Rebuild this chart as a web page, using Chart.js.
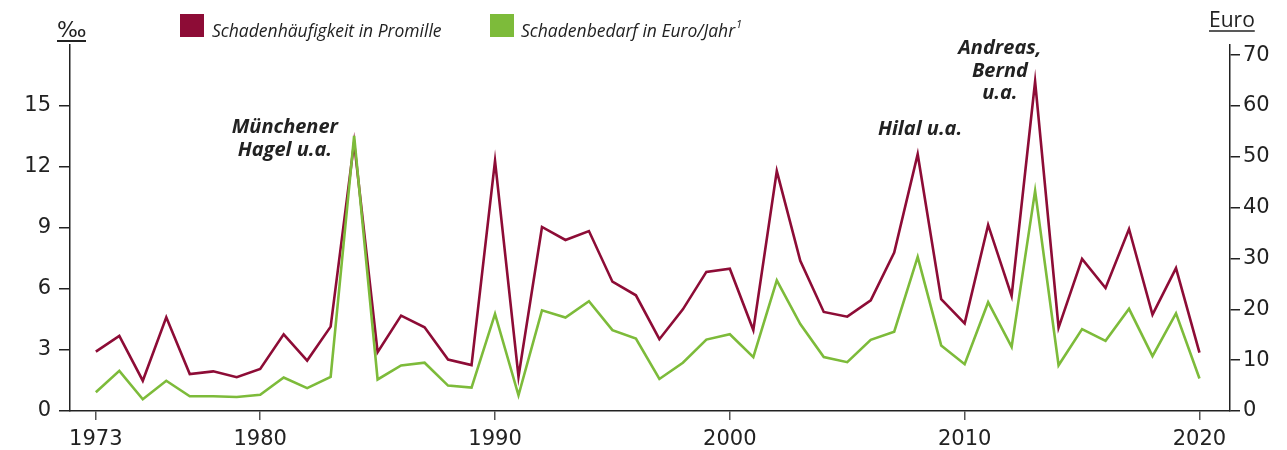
<!DOCTYPE html>
<html>
<head>
  <meta charset="UTF-8">
  <title>Schadenhäufigkeit und Schadenbedarf</title>
  <script src="https://cdn.jsdelivr.net/npm/chart.js"></script>
  <style>
    html, body { margin: 0; padding: 0; background: #fff; }
    #wrap { width: 1287px; height: 450px; }
  </style>
</head>
<body>
  <div id="wrap"><canvas id="chart" width="1287" height="450"></canvas></div>
  <script>
    const years = [1973, 1974, 1975, 1976, 1977, 1978, 1979, 1980, 1981, 1982, 1983, 1984,
      1985, 1986, 1987, 1988, 1989, 1990, 1991, 1992, 1993, 1994, 1995, 1996,
      1997, 1998, 1999, 2000, 2001, 2002, 2003, 2004, 2005, 2006, 2007, 2008,
      2009, 2010, 2011, 2012, 2013, 2014, 2015, 2016, 2017, 2018, 2019, 2020];

    // Schadenhäufigkeit in Promille (linke Achse)
    const haeufigkeit = [2.92, 3.69, 1.49, 4.61, 1.82, 1.95, 1.66, 2.07, 3.77, 2.48, 4.15, 13.2,
      2.89, 4.69, 4.12, 2.53, 2.26, 12.3, 1.69, 9.05, 8.41, 8.85, 6.36, 5.69,
      3.53, 5.0, 6.84, 7.0, 3.98, 11.8, 7.39, 4.87, 4.64, 5.44, 7.79, 12.63,
      5.5, 4.31, 9.15, 5.66, 16.2, 4.1, 7.48, 6.05, 8.95, 4.74, 7.03, 2.87];

    // Schadenbedarf in Euro/Jahr (rechte Achse)
    const bedarf = [3.7, 7.9, 2.3, 5.95, 2.9, 2.9, 2.75, 3.2, 6.6, 4.5, 6.7, 54.1,
      6.2, 8.95, 9.5, 5.0, 4.6, 19.1, 3.1, 19.8, 18.4, 21.6, 15.9, 14.25,
      6.3, 9.5, 14.05, 15.1, 10.6, 25.7, 17.1, 10.6, 9.6, 14.0, 15.6, 30.3,
      12.9, 9.2, 21.4, 12.6, 43.3, 9.0, 16.1, 13.8, 20.1, 10.8, 19.2, 6.4];

    const xTicks = [1973, 1980, 1990, 2000, 2010, 2020];
    const leftTicks = [0, 3, 6, 9, 12, 15];
    const rightTicks = [0, 10, 20, 30, 40, 50, 60, 70];

    const notes = [
      { year: 1981.05, lines: ['Münchener', 'Hagel u.a.'], y: 126 },
      { year: 2008.1, lines: ['Hilal u.a.'], y: 128 },
      { year: 2011.5, lines: ['Andreas,', 'Bernd', 'u.a.'], y: 47 }
    ];

    const RED = '#8d0c36';
    const GREEN = '#7dbb3a';
    const INK = '#222';
    const tickFont = { family: 'DejaVu Sans', size: 21 };

    const extras = {
      id: 'extras',
      afterDraw(chart) {
        const ctx = chart.ctx;
        const xs = chart.scales.x;
        ctx.save();
        ctx.fillStyle = INK;
        ctx.strokeStyle = INK;

        // Achsentitel
        ctx.font = '22px "DejaVu Sans"';
        ctx.textBaseline = 'alphabetic';
        ctx.textAlign = 'left';
        ctx.fillText('‰', 57, 37);
        ctx.lineWidth = 2;
        ctx.beginPath(); ctx.moveTo(57, 41); ctx.lineTo(86, 41); ctx.stroke();
        ctx.font = '21px "Open Sans"';
        ctx.fillText('Euro', 1209, 27);
        const ew = ctx.measureText('Euro').width;
        ctx.lineWidth = 1.5;
        ctx.beginPath(); ctx.moveTo(1209, 31); ctx.lineTo(1209 + ew, 31); ctx.stroke();

        // Legende
        ctx.fillStyle = RED;
        ctx.fillRect(180, 14, 24, 23);
        ctx.fillStyle = GREEN;
        ctx.fillRect(490, 14, 24, 23);
        ctx.fillStyle = INK;
        ctx.font = 'italic 17.5px "Open Sans"';
        ctx.fillText('Schadenhäufigkeit in Promille', 212, 37);
        ctx.fillText('Schadenbedarf in Euro/Jahr', 521, 37);
        const lw = ctx.measureText('Schadenbedarf in Euro/Jahr').width;
        ctx.font = 'italic 11px "Open Sans"';
        ctx.fillText('1', 522 + lw, 28);

        // Ereignisse
        ctx.font = 'italic bold 20px "Open Sans"';
        ctx.textAlign = 'center';
        notes.forEach(n => {
          const x = xs.getPixelForValue(n.year);
          n.lines.forEach((t, i) => ctx.fillText(t, x, n.y + 7 + i * 22.5));
        });
        ctx.restore();
      }
    };

    new Chart(document.getElementById('chart'), {
      type: 'line',
      data: {
        datasets: [
          {
            label: 'Schadenhäufigkeit in Promille',
            data: years.map((y, i) => ({ x: y, y: haeufigkeit[i] })),
            borderColor: RED, borderWidth: 2.6, pointRadius: 0,
            yAxisID: 'y', order: 2, tension: 0
          },
          {
            label: 'Schadenbedarf in Euro/Jahr',
            data: years.map((y, i) => ({ x: y, y: bedarf[i] })),
            borderColor: GREEN, borderWidth: 2.6, pointRadius: 0,
            yAxisID: 'y1', order: 1, tension: 0
          }
        ]
      },
      options: {
        responsive: false,
        animation: false,
        layout: { padding: { top: 45, left: 0, right: 0, bottom: 0 } },
        plugins: { legend: { display: false }, tooltip: { enabled: false } },
        scales: {
          x: {
            type: 'linear', min: 1971.9, max: 2021.3,
            afterBuildTicks: s => { s.ticks = xTicks.map(v => ({ value: v })); },
            afterFit: s => { s.height = 39; },
            ticks: { color: INK, font: tickFont, padding: 7, maxRotation: 0, callback: v => String(v) },
            grid: { drawOnChartArea: false, drawTicks: true, tickLength: 9, color: '#555', lineWidth: 1.5 },
            border: { display: true, color: '#222', width: 1.5 }
          },
          y: {
            position: 'left', min: 0, max: 18,
            afterBuildTicks: s => { s.ticks = leftTicks.map(v => ({ value: v })); },
            afterFit: s => { s.width = 70; },
            ticks: { color: INK, font: tickFont, padding: 8 },
            grid: { drawOnChartArea: false, drawTicks: true, tickLength: 11, color: '#222', lineWidth: 1.5 },
            border: { display: true, color: '#222', width: 1.5 }
          },
          y1: {
            position: 'right', min: 0, max: 72,
            afterBuildTicks: s => { s.ticks = rightTicks.map(v => ({ value: v })); },
            afterFit: s => { s.width = 57; },
            ticks: { color: INK, font: tickFont, padding: 3 },
            grid: { drawOnChartArea: false, drawTicks: true, tickLength: 10, color: '#222', lineWidth: 1.5 },
            border: { display: true, color: '#222', width: 1.5 }
          }
        }
      },
      plugins: [extras]
    });
  </script>
</body>
</html>
